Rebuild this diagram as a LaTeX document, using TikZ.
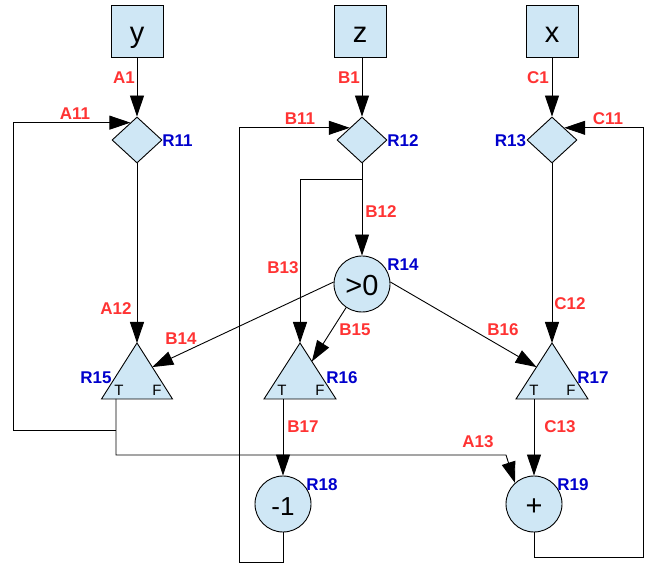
\documentclass[tikz,border=0pt]{standalone}
\usepackage{fontspec}
\setmainfont{Liberation Sans}
\usetikzlibrary{shapes.geometric,arrows.meta,calc}
\definecolor{nodefill}{HTML}{CFE7F5}
\definecolor{lblred}{HTML}{FF3333}
\definecolor{lblblue}{HTML}{0000CC}
\begin{document}
\begin{tikzpicture}[x=1pt,y=-1pt,
  shapebase/.style={draw=black, fill=nodefill, line width=0.9pt, inner sep=0pt},
  inbox/.style={shapebase, rectangle, minimum size=52pt, font=\fontsize{29}{30}\selectfont, text height=23pt, text depth=0pt},
  gate/.style={shapebase, diamond, minimum width=50pt, minimum height=46pt},
  opcirc/.style={shapebase, circle, minimum size=56pt, font=\fontsize{29}{30}\selectfont, text height=23pt, text depth=0pt},
  conn/.style={line width=0.9pt, -{Triangle[length=21pt,width=14pt]}},
  elab/.style={text=lblred, font=\bfseries\fontsize{17}{18}\selectfont, inner sep=0pt},
  rlab/.style={text=lblblue, font=\bfseries\fontsize{17}{18}\selectfont, inner sep=0pt},
  tf/.style={font=\fontsize{15}{16}\selectfont, inner sep=0pt}
]
\useasboundingbox (0,0) rectangle (649,564);

% input boxes
\node[inbox] (y) at (137,31) {y};
\node[inbox] (z) at (360,31) {z};
\node[inbox] (x) at (552,31) {x};

% diamonds
\node[gate] (R11) at (137,140) {};
\node[gate] (R12) at (362,140) {};
\node[gate] (R13) at (552,140) {};

% circles
\node[opcirc] (R14) at (362,284) {>0};
\node[opcirc, font=\fontsize{26}{28}\selectfont, text height=22pt] (R18) at (283,504) {-1};
\node[opcirc] (R19) at (534,504) {+};

% triangles
\path[shapebase] (137,343) coordinate (R15a) -- (172.5,399) coordinate (R15r) -- (101.5,399) coordinate (R15l) -- cycle;
\path[shapebase] (300,343) coordinate (R16a) -- (336,399) coordinate (R16r) -- (264,399) coordinate (R16l) -- cycle;
\path[shapebase] (552,343) coordinate (R17a) -- (588,399) coordinate (R17r) -- (516,399) coordinate (R17l) -- cycle;
\node[tf] (R15t) at (119,390) {T};
\node[tf] (R15f) at (157,390) {F};
\node[tf] (R16t) at (282,390) {T};
\node[tf] (R16f) at (320,390) {F};
\node[tf] (R17t) at (534,390) {T};
\node[tf] (R17f) at (571,390) {F};
\coordinate (R15T) at (116,399);
\coordinate (R16T) at (283,399);
\coordinate (R17T) at (534,399);

% connectors
\draw[conn] (y.south) -- (R11.north);
\draw[conn] (R12.north |- z.south) -- (R12.north);
\draw[conn] (x.south) -- (R13.north);
\draw[conn] (R11.south) -- (R15a);
\draw[conn] (R12.south) -- (R14.north);
\coordinate (b13s) at (362,179);
\draw[conn] (b13s) -| (R16a);
\draw[conn] (R13.south) -- (R17a);
\draw[conn] (R14.176) -- ($(R15a)!0.43!(R15r)$);
\draw[conn] (R14.236) -- ($(R16a)!0.33!(R16r)$);
\draw[conn] (R14.4) -- ($(R17a)!0.43!(R17l)$);
\draw[conn] (R16T) -- (R18.north);
\draw[conn] (R17T) -- (R19.north);
\coordinate (a13k) at (506,455);
\draw[conn] (R15T) |- (a13k) -- (R19.132);
\coordinate (a11j) at (116,430);
\draw[conn] (a11j) -- (13,430) |- ($(R11.north)!0.26!(R11.west)$);
\draw[conn] (R18.south) -- (283,562) -- (239,562) |- ($(R12.north)!0.48!(R12.west)$);
\draw[conn] (R19.south) |- (643,557) |- ($(R13.north)!0.48!(R13.east)$);

% edge labels
\node[elab] (lA1) at (124,78) {A1};
\node[elab] (lA11) at (75,114) {A11};
\node[elab] (lA12) at (116,309) {A12};
\node[elab] (lA13) at (478,442) {A13};
\node[elab] (lB1) at (349,78) {B1};
\node[elab] (lB11) at (300,119) {B11};
\node[elab] (lB12) at (381,212) {B12};
\node[elab] (lB13) at (283,268) {B13};
\node[elab] (lB14) at (181,339) {B14};
\node[elab] (lB15) at (355,330) {B15};
\node[elab] (lB16) at (503,330) {B16};
\node[elab] (lB17) at (303,427) {B17};
\node[elab] (lC1) at (538,78) {C1};
\node[elab] (lC11) at (608,119) {C11};
\node[elab] (lC12) at (570,304) {C12};
\node[elab] (lC13) at (560,427) {C13};

% node labels
\node[rlab] (lR11) at (177.5,141) {R11};
\node[rlab] (lR12) at (403,141) {R12};
\node[rlab] (lR13) at (510.5,141) {R13};
\node[rlab] (lR14) at (403,265) {R14};
\node[rlab] (lR15) at (96,378) {R15};
\node[rlab] (lR16) at (342,377.5) {R16};
\node[rlab] (lR17) at (593,377.5) {R17};
\node[rlab] (lR18) at (322,485) {R18};
\node[rlab] (lR19) at (573,485) {R19};
\end{tikzpicture}
\end{document}
